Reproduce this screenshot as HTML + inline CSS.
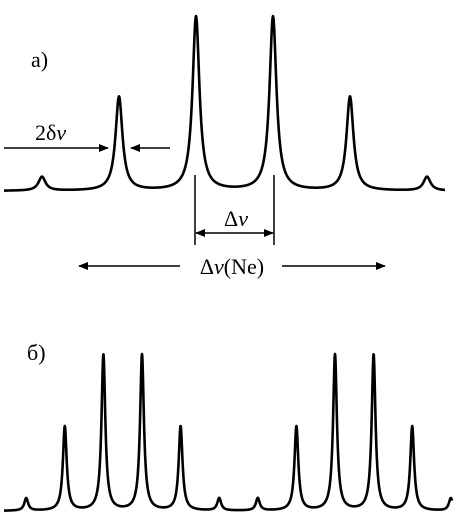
<!DOCTYPE html>
<html><head><meta charset="utf-8"><style>
html,body{margin:0;padding:0;background:#fff;}
svg{display:block;}
text{font-family:"Liberation Serif",serif;fill:#000;}
</style></head><body>
<svg id="chart" width="466" height="520" viewBox="0 0 466 520">
<defs><marker id="ah" markerWidth="10" markerHeight="8" refX="9" refY="4" orient="auto" markerUnits="userSpaceOnUse"><path d="M0,0 L10,4 L0,8 Z" fill="#000"/></marker></defs>
<text x="31" y="67" font-size="22">a)</text>
<text x="35" y="140" font-size="22">2δ<tspan font-style="italic">ν</tspan></text>
<line x1="4" y1="148" x2="108" y2="148" stroke="#000" stroke-width="1.5" marker-end="url(#ah)"/>
<line x1="170" y1="148" x2="131" y2="148" stroke="#000" stroke-width="1.5" marker-end="url(#ah)"/>
<line x1="195" y1="175" x2="195" y2="245" stroke="#000" stroke-width="1.5"/>
<line x1="274" y1="175" x2="274" y2="245" stroke="#000" stroke-width="1.5"/>
<line x1="235" y1="233" x2="196" y2="233" stroke="#000" stroke-width="1.5" marker-end="url(#ah)"/>
<line x1="235" y1="233" x2="273" y2="233" stroke="#000" stroke-width="1.5" marker-end="url(#ah)"/>
<text x="236" y="226" font-size="22" text-anchor="middle">Δ<tspan font-style="italic">ν</tspan></text>
<line x1="180" y1="266" x2="79" y2="266" stroke="#000" stroke-width="1.5" marker-end="url(#ah)"/>
<line x1="282" y1="266" x2="385" y2="266" stroke="#000" stroke-width="1.5" marker-end="url(#ah)"/>
<text x="232" y="274" font-size="22" text-anchor="middle">Δ<tspan font-style="italic">ν</tspan>(Ne)</text>
<text x="27" y="360" font-size="22">б)</text>
</svg>
<script>
// Panel a: mode positions (in units of mode spacing) and relative amplitudes
const topPositions = [-2.5, -1.5, -0.5, 0.5, 1.5, 2.5];
const topAmps = [0.08, 0.54, 1, 1, 0.54, 0.08];
// Panel b: two groups of modes
const botPositions = [-5.5, -4.5, -3.5, -2.5, -1.5, -0.5, 0.5, 1.5, 2.5, 3.5, 4.5, 5.5];
const botAmps = [0.08, 0.54, 1, 1, 0.54, 0.08, 0.08, 0.54, 1, 1, 0.54, 0.08];

const svg = document.getElementById('chart');
const NS = 'http://www.w3.org/2000/svg';

function drawSpectrum(pos, amps, xc, step, base, height, g, x0, x1, name) {
  const sx = p => xc + p * step;
  const sy = v => base - v * height;
  let d = '';
  for (let x = x0; x <= x1; x += 0.25) {
    let v = 0;
    for (let i = 0; i < pos.length; i++) {
      const dx = x - sx(pos[i]);
      v += amps[i] * g * g / (dx * dx + g * g);
    }
    d += (d ? 'L' : 'M') + x.toFixed(2) + ',' + sy(v).toFixed(2);
  }
  const p = document.createElementNS(NS, 'path');
  p.setAttribute('d', d);
  p.setAttribute('fill', 'none');
  p.setAttribute('stroke', '#000');
  p.setAttribute('stroke-width', '2.6');
  p.setAttribute('stroke-linejoin', 'round');
  
  
  svg.appendChild(p);
}
drawSpectrum(topPositions, topAmps, 234.5, 77, 191, 174, 4.2, 4, 445, 'spectrum-a-line');
drawSpectrum(botPositions, botAmps, 238.5, 38.6, 511, 156, 2.3, 4, 452, 'spectrum-b-line');
</script>
</body></html>
